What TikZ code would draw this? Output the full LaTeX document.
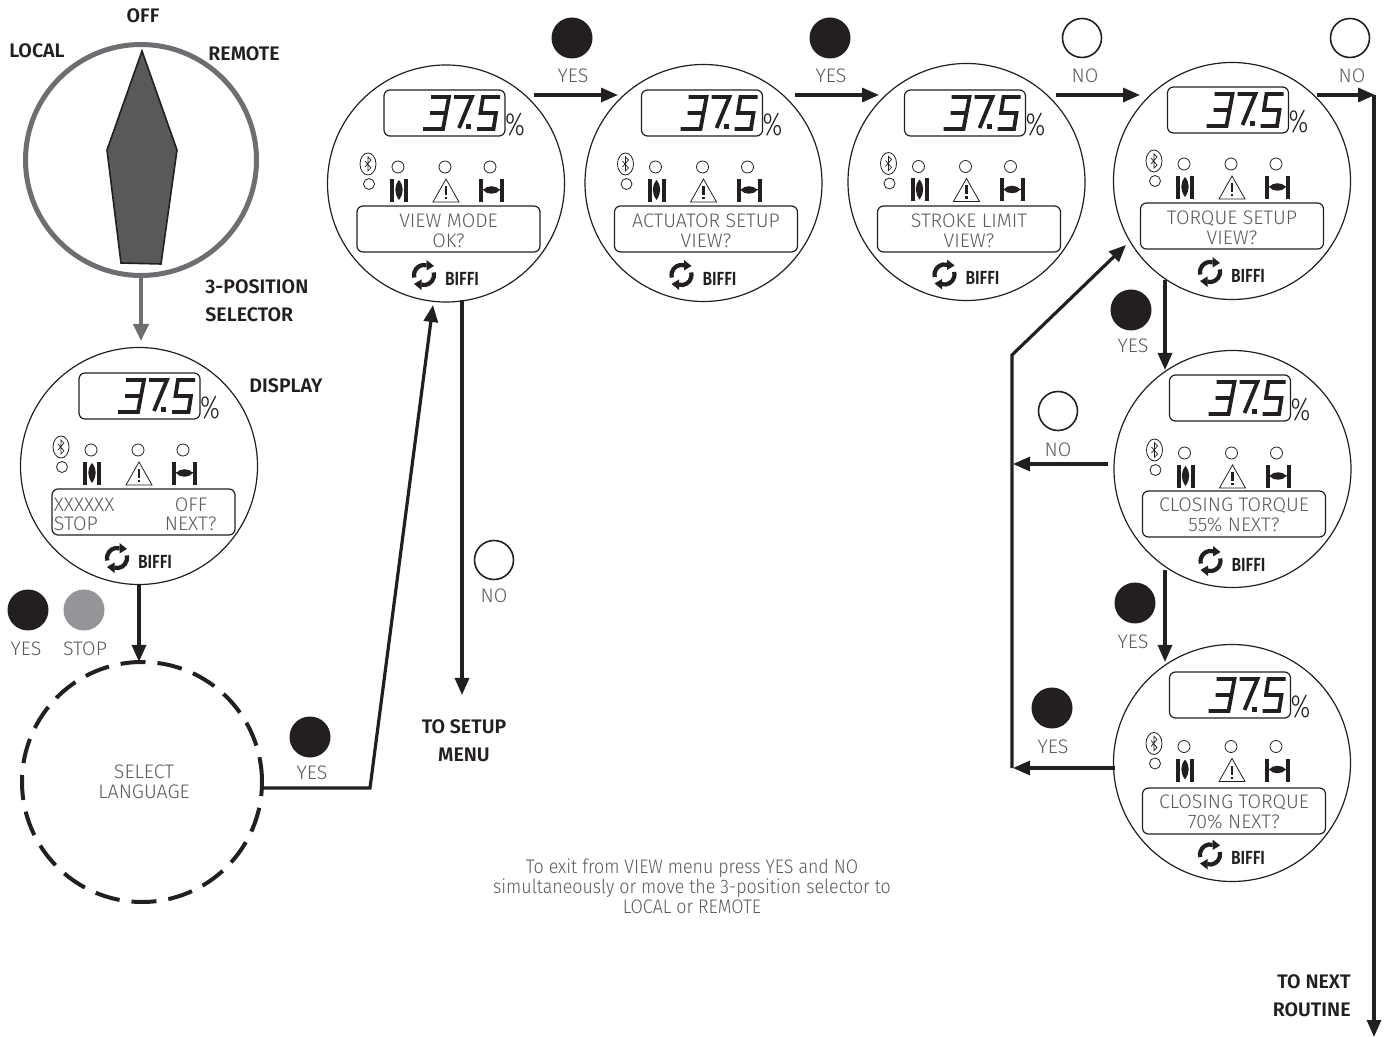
\documentclass[tikz,border=0pt]{standalone}
\usepackage{fontspec}
\setmainfont{Fira Sans}[UprightFont=* Light,BoldFont=* SemiBold]
\usetikzlibrary{arrows.meta,shapes.geometric}
\definecolor{ink}{HTML}{231F20}
\definecolor{soft}{HTML}{58595B}
\definecolor{selgray}{HTML}{6D6E71}
\definecolor{pointer}{HTML}{58595B}
\definecolor{btngray}{HTML}{939598}
\tikzset{
  x=0.5pt,y=-0.5pt,
  flow/.style={draw=ink,line width=1.6pt,-{Triangle[length=8.5pt,width=7pt]}},
  face/.style={circle,draw=ink,line width=0.6pt,minimum size=118.5pt,inner sep=0pt},
  thinline/.style={draw=ink,line width=0.5pt},
  seg/.style={draw=ink,line width=1.9pt,line join=miter},
  lamp/.style={circle,draw=ink,line width=0.4pt,minimum size=6pt,inner sep=0pt},
  lab/.style={font=\fontsize{9.8}{10}\selectfont,text=soft,inner sep=0pt,align=center,yshift=-0.4pt},
  hd/.style={font=\fontsize{9.8}{14}\selectfont\bfseries,text=ink,inner sep=0pt,yshift=-0.4pt},
  btnk/.style={circle,fill=ink,minimum size=20.5pt,inner sep=0pt},
  btnw/.style={circle,draw=ink,line width=0.8pt,fill=white,minimum size=19.5pt,inner sep=0pt},
  btng/.style={circle,fill=btngray,minimum size=20.5pt,inner sep=0pt},
}
\newcommand{\readout}{%
  \draw[seg] (-13,-86)--(5,-86)--(-1,-54)--(-21,-54) (-14,-70)--(2,-70);
  \draw[seg] (10,-86)--(28,-86)--(15,-55);
  \fill[ink] (22,-58.5) rectangle (27,-53.5);
  \draw[seg] (56,-86)--(39,-86)--(36.5,-70)--(52,-70)--(49.5,-54)--(33,-54);
}
% #1 name, #2 #3 circle centre, #4 #5 LCD and text-box origin, #6 y of the icon row origin, #7 text nodes
\newcommand{\display}[7]{%
  \node[face] (#1) at (#2,#3) {};
  \begin{scope}[shift={(#4,#5)}]
    \node[draw=ink,line width=0.6pt,rounded corners=3pt,minimum width=60.5pt,minimum height=23pt,inner sep=0pt] (#1lcd) at (0.5,-70) {};
    \readout
    \node[font=\fontsize{16}{16}\selectfont,text=ink,inner sep=0pt,xscale=0.78] (#1pct) at (71,-58) {\%};
    \node[draw=ink,line width=0.6pt,rounded corners=3pt,minimum width=91.5pt,minimum height=23pt,inner sep=0pt] (#1box) at (4.5,46) {};
    #7
  \end{scope}
  \begin{scope}[shift={(#2,#6)}]
    \node[draw=ink,line width=0.4pt,ellipse,minimum width=8pt,minimum height=11pt,inner sep=0pt] (#1bt) at (-78,-19) {};
    \draw[thinline,line width=0.35pt] (-81,-22)--(-75,-15)--(-78,-12)--(-78,-26)--(-75,-23)--(-81,-16);
    \node[lamp,minimum size=5.5pt] (#1la) at (-77,1) {};
    \node[lamp] (#1lb) at (-48,-16) {};
    \node[lamp] (#1lc) at (-1,-16) {};
    \node[lamp] (#1ld) at (44,-16) {};
    \fill[ink] (-55.7,-4) rectangle (-51.7,19);
    \fill[ink] (-41.7,-4) rectangle (-37.7,19);
    \fill[ink] (-47,-3) .. controls (-52,3) and (-52,10) .. (-47,17) .. controls (-42,10) and (-42,3) .. (-47,-3) -- cycle;
    \draw[thinline,line width=0.4pt,line join=miter] (0,-4)--(-13,19)--(13,19)--cycle;
    \fill[ink] (-1.3,3) rectangle (1.3,12);
    \fill[ink] (-1.3,14) rectangle (1.3,16.5);
    \fill[ink] (33,-4) rectangle (37,19);
    \fill[ink] (54,-4) rectangle (58,19);
    \draw[ink,line width=0.5pt] (37,7)--(54,7);
    \fill[ink] (37,7) .. controls (41,2) and (50,2) .. (54,7) .. controls (50,12) and (41,12) .. (37,7) -- cycle;
    \draw[ink,line width=2.1pt] (-19.4,82.3) arc[start angle=75,end angle=195,radius=5pt];
    \draw[ink,line width=2.1pt] (-24.6,101.7) arc[start angle=255,end angle=375,radius=5pt];
    \fill[ink] (-19.5,77) -- (-19.5,87.5) -- (-12,83) -- cycle;
    \fill[ink] (-24.5,107) -- (-24.5,96.5) -- (-32,101) -- cycle;
    \node[font=\fontsize{9.5}{10}\selectfont\bfseries,text=ink,inner sep=0pt,xscale=0.82] (#1brand) at (16,95.5) {BIFFI};
  \end{scope}
}
\newcommand{\centred}[3]{\node[lab] (#1t) at (4.5,46.5) {#2\\#3};}
\begin{document}
\begin{tikzpicture}
\useasboundingbox (0,0) rectangle (1388,1037);
% selector
\node[circle,draw=selgray,line width=2.5pt,minimum size=115.5pt,inner sep=0pt] (sel) at (141,160) {};
\filldraw[fill=pointer,draw=ink,line width=0.8pt] (142,51)--(177,150)--(161,264)--(121,263)--(107,150)--cycle;
\coordinate (selout) at (141,277);
\coordinate (selin) at (141,341);
\draw[draw=selgray,line width=2pt,-{Triangle[length=8.5pt,width=7.5pt]}] (selout)--(selin);
\node[hd] (hoff) at (143,15) {OFF};
\node[hd] (hlocal) at (37,49.5) {LOCAL};
\node[hd] (hremote) at (244,52.5) {REMOTE};
\node[hd,align=left,anchor=west] (hpos) at (205,300) {3-POSITION\\SELECTOR};
\node[hd] (hdisp) at (286,385) {DISPLAY};
% displays
\display{da}{139}{466}{139}{466}{466}{%
  \node[lab,anchor=west] (dax) at (-85.5,37.5) {XXXXXX};
  \node[lab,anchor=west] (das) at (-85.5,57) {STOP};
  \node[lab] (dao) at (52,37.5) {OFF};
  \node[lab,anchor=east] (dan) at (78,57) {NEXT?};}
\display{db}{446}{183.5}{444}{183}{183}{\centred{db}{VIEW MODE}{OK?}}
\display{dc}{703.5}{183}{701.5}{183}{183}{\centred{dc}{ACTUATOR SETUP}{VIEW?}}
\display{dd}{966.5}{182}{964.5}{183}{182.5}{\centred{dd}{STROKE LIMIT}{VIEW?}}
\display{de}{1232}{181}{1227.5}{180}{180}{\centred{de}{TORQUE SETUP}{VIEW?}}
\display{df}{1232.5}{469}{1229.5}{468}{469}{\centred{df}{CLOSING TORQUE}{55\% NEXT?}}
\display{dg}{1232}{763}{1229.5}{765}{762.5}{\centred{dg}{CLOSING TORQUE}{70\% NEXT?}}
% language
\node[circle,draw=ink,line width=2pt,dash pattern=on 12.5pt off 6pt,minimum size=120pt,inner sep=0pt] (lang) at (142,782) {};
\node[lab] (langt) at (144,781) {SELECT\\LANGUAGE};
% buttons
\node[btnk] (b1) at (572,38) {}; \node[lab] (l1) at (573,75) {YES};
\node[btnk] (b2) at (830,38) {}; \node[lab] (l2) at (831,75) {YES};
\node[btnw] (b3) at (1082,38) {}; \node[lab] (l3) at (1085,75) {NO};
\node[btnw] (b4) at (1350,38) {}; \node[lab] (l4) at (1352,75) {NO};
\node[btnk] (b5) at (1131,310) {}; \node[lab] (l5) at (1133,345) {YES};
\node[btnw] (b6) at (1058,411) {}; \node[lab] (l6) at (1058,449) {NO};
\node[btnk] (b7) at (1135,603) {}; \node[lab] (l7) at (1133,641) {YES};
\node[btnk] (b8) at (1052,708) {}; \node[lab] (l8) at (1053,746) {YES};
\node[btnw] (b9) at (494,560) {}; \node[lab] (l9) at (494,595) {NO};
\node[btnk] (b10) at (310,737) {}; \node[lab] (l10) at (312,772) {YES};
\node[btnk] (b11) at (28,610) {}; \node[lab] (l11) at (26,648) {YES};
\node[btng] (b12) at (84,610) {}; \node[lab] (l12) at (85,648) {STOP};
% headings
\node[hd,align=center] (hsetup) at (464,740) {TO SETUP\\MENU};
\node[hd,align=right,anchor=east] (hnext) at (1351,995) {TO NEXT\\ROUTINE};
\node[lab,xscale=0.91] (note) at (692,885.5) {To exit from VIEW menu press YES and NO\\simultaneously or move the 3-position selector to\\LOCAL or REMOTE};
% connector ends
\coordinate (c1a) at (139,585); \coordinate (c1b) at (139,662);
\coordinate (c2a) at (262,788); \coordinate (c2m) at (370,788); \coordinate (c2b) at (433,305);
\coordinate (c3a) at (462,300); \coordinate (c3b) at (462,695);
\coordinate (c4a) at (534,95); \coordinate (c4b) at (618,95);
\coordinate (c5a) at (795,95); \coordinate (c5b) at (879,95);
\coordinate (c6a) at (1056,95); \coordinate (c6b) at (1140,95);
\coordinate (c7a) at (1317,95); \coordinate (c7b) at (1375,95);
\coordinate (c8a) at (1374,95); \coordinate (c8b) at (1374,1037);
\coordinate (c9a) at (1165,280); \coordinate (c9b) at (1165,370);
\coordinate (c10a) at (1165,570); \coordinate (c10b) at (1165,662);
\coordinate (c11a) at (1108,464); \coordinate (c11b) at (1013,464);
\coordinate (c12a) at (1115,768); \coordinate (c12b) at (1013,768);
\coordinate (c13a) at (1012,768); \coordinate (c13m) at (1012,355); \coordinate (c13b) at (1126,245);
\draw[flow] (c1a)--(c1b);
\draw[flow] (c2a)--(c2m)--(c2b);
\draw[flow] (c3a)--(c3b);
\draw[flow] (c4a)--(c4b);
\draw[flow] (c5a)--(c5b);
\draw[flow] (c6a)--(c6b);
\draw[flow] (c7a)--(c7b);
\draw[flow] (c8a)--(c8b);
\draw[flow] (c9a)--(c9b);
\draw[flow] (c10a)--(c10b);
\draw[flow] (c11a)--(c11b);
\draw[flow] (c12a)--(c12b);
\draw[flow] (c13a)--(c13m)--(c13b);
\end{tikzpicture}
\end{document}
